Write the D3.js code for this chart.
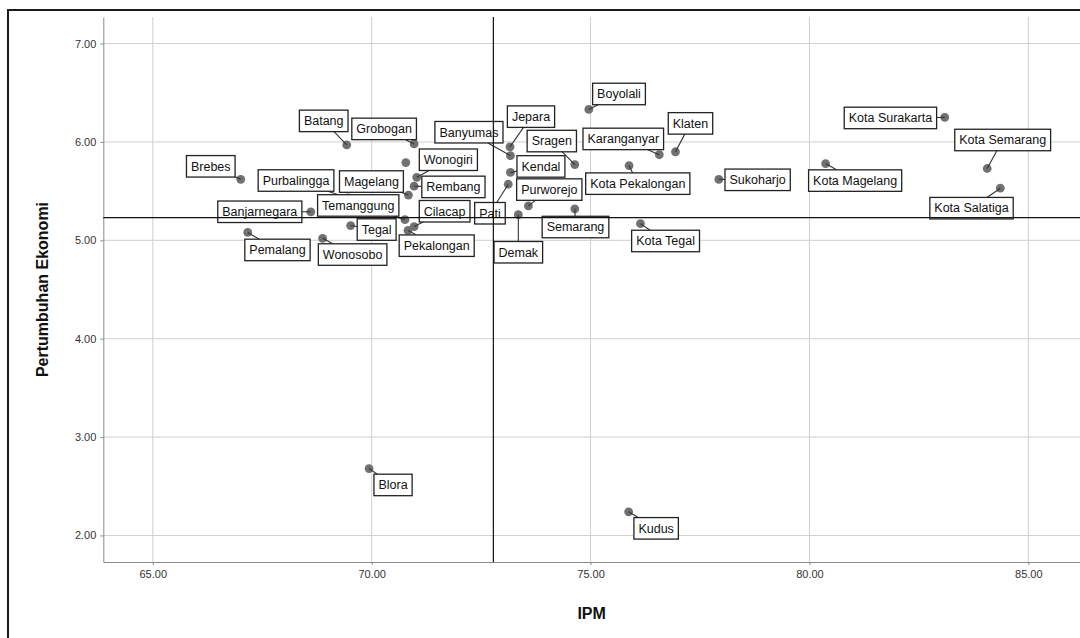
<!DOCTYPE html>
<html>
<head>
<meta charset="utf-8">
<script src="https://cdn.jsdelivr.net/npm/d3@7"></script>
<style>
  html, body { margin: 0; padding: 0; background: #fff; }
  svg { display: block; }
  text { font-family: Arial, "Liberation Sans", sans-serif; }
</style>
</head>
<body>
<svg id="chart" width="1080" height="638"></svg>
<script>
// ---- data ----
const regions = ["Batang","Grobogan","Brebes","Kebumen","Wonogiri","Rembang","Magelang","Purbalingga",
  "Banjarnegara","Tegal","Wonosobo","Pemalang","Temanggung","Cilacap","Pekalongan",
  "Jepara","Banyumas","Kendal","Pati","Purworejo","Demak","Sragen","Semarang","Boyolali",
  "Karanganyar","Klaten","Kota Pekalongan","Kota Tegal","Sukoharjo","Kota Surakarta",
  "Kota Semarang","Kota Magelang","Kota Salatiga","Blora","Kudus"];
const ipm = [69.43,70.97,67.01,70.78,71.03,70.97,70.84,69.46,
  68.61,69.52,68.88,67.17,70.76,70.97,70.83,
  73.16,73.17,73.17,73.12,73.58,73.35,74.64,74.64,74.96,
  76.57,76.94,75.88,76.14,77.93,83.09,
  84.06,80.37,84.36,69.94,75.87];
const growth = [5.97,5.98,5.62,5.79,5.64,5.55,5.46,5.43,
  5.29,5.15,5.02,5.08,5.21,5.14,5.10,
  5.95,5.86,5.69,5.57,5.35,5.26,5.77,5.32,6.33,
  5.87,5.90,5.76,5.17,5.62,6.25,
  5.73,5.78,5.53,2.68,2.24];
const showLabel = [1,1,1,0,1,1,1,1, 1,1,1,1,1,1,1, 1,1,1,1,1,1,1,1,1, 1,1,1,1,1,1, 1,1,1,1,1];
const xTicks = [65, 70, 75, 80, 85];
const yTicks = [2, 3, 4, 5, 6, 7];
const refIPM = 72.78;
const refGrowth = 5.231;
const xTitle = "IPM";
const yTitle = "Pertumbuhan Ekonomi";

// ---- layout (label centre offsets from the point, px) ----
const labelOffsets = {
  "Batang":[-23,-24], "Grobogan":[-30,-15], "Brebes":[-30,-13], "Wonogiri":[31.6,-17.6],
  "Rembang":[39.3,0.7], "Magelang":[-37,-13.5], "Purbalingga":[-52,-17.5],
  "Banjarnegara":[-51,0], "Tegal":[26,4], "Wonosobo":[30,16.2], "Pemalang":[29.7,17.5],
  "Temanggung":[-46.7,-14.2], "Cilacap":[30.5,-15.3], "Pekalongan":[28.7,15.2],
  "Jepara":[21,-30.2], "Banyumas":[-41.5,-23.5], "Kendal":[30.5,-6], "Pati":[-18.3,29],
  "Purworejo":[20.9,-16.3], "Demak":[0,37.5], "Sragen":[-23,-23.5], "Semarang":[0.7,18.2],
  "Boyolali":[30.2,-15.5], "Karanganyar":[-36,-15.8], "Klaten":[15,-28.4],
  "Kota Pekalongan":[8.7,18.1], "Kota Tegal":[25.1,17.4], "Sukoharjo":[38.8,0.5],
  "Kota Surakarta":[-54.3,0.6], "Kota Semarang":[15.5,-28.5], "Kota Magelang":[29.5,17],
  "Kota Salatiga":[-28.8,20], "Blora":[24,16.4], "Kudus":[27.5,16.5]
};

const svg = d3.select("#chart");
const pL = 103.3, pR = 1080, pT = 17, pB = 562;
const x = d3.scaleLinear().domain([63.87, 86.18]).range([pL, pR]);
const y = d3.scaleLinear().domain([1.73, 7.27]).range([pB, pT]);

// outer frame
svg.append("rect").attr("x", 8).attr("y", 10).attr("width", 1100).attr("height", 700)
  .attr("fill", "none").attr("stroke", "#1a1a1a").attr("stroke-width", 2);

// gridlines
svg.append("g").selectAll("line").data(xTicks).join("line")
  .attr("x1", d => x(d)).attr("x2", d => x(d)).attr("y1", pT).attr("y2", pB)
  .attr("stroke", "#cfcfcf").attr("stroke-width", 1);
svg.append("g").selectAll("line").data(yTicks).join("line")
  .attr("x1", pL).attr("x2", pR).attr("y1", d => y(d)).attr("y2", d => y(d))
  .attr("stroke", "#cfcfcf").attr("stroke-width", 1);

// axes
const xAxis = svg.append("g").attr("transform", `translate(0,${pB})`)
  .call(d3.axisBottom(x).tickValues(xTicks).tickFormat(d3.format(".2f")).tickSize(3).tickSizeOuter(0).tickPadding(5));
const yAxis = svg.append("g").attr("transform", `translate(${pL},0)`)
  .call(d3.axisLeft(y).tickValues(yTicks).tickFormat(d3.format(".2f")).tickSize(3).tickSizeOuter(0).tickPadding(4));
[xAxis, yAxis].forEach(g => {
  g.select(".domain").attr("stroke", "#8a8a8a");
  g.selectAll(".tick line").attr("stroke", "#8a8a8a");
  g.selectAll(".tick text").attr("fill", "#333").style("font-size", "11px")
    .style("font-family", "Arial, 'Liberation Sans', sans-serif");
});

// points
const pts = regions.map((r, i) => ({name: r, cx: x(ipm[i]), cy: y(growth[i]), lab: showLabel[i]}));
svg.append("g").selectAll("circle").data(pts).join("circle")
  .attr("cx", d => d.cx).attr("cy", d => d.cy).attr("r", 4.4).attr("fill", "#717171");

// labels
const lg = svg.append("g");
const labelled = pts.filter(d => d.lab && labelOffsets[d.name]);
labelled.forEach(d => {
  const off = labelOffsets[d.name];
  const lx = d.cx + off[0], ly = d.cy + off[1];
  const t = lg.append("text").attr("x", lx).attr("y", ly + 4.3).attr("text-anchor", "middle")
    .style("font-size", "12.5px").attr("fill", "#111").text(d.name);
  const w = t.node().getComputedTextLength() + 9;
  const h = 21.5;
  const bx = lx - w / 2, by = ly - h / 2;
  // connector: from point towards the box centre, stopping at the box border
  const dx = lx - d.cx, dy = ly - d.cy;
  const inside = d.cx >= bx && d.cx <= bx + w && d.cy >= by && d.cy <= by + h;
  if (!inside) {
    let tmin = 1;
    if (dx !== 0) {
      const tx = dx > 0 ? (bx - d.cx) / dx : (bx + w - d.cx) / dx;
      if (tx > 0 && tx < 1) {
        const yy = d.cy + tx * dy;
        if (yy >= by - 0.01 && yy <= by + h + 0.01) tmin = Math.min(tmin, tx);
      }
    }
    if (dy !== 0) {
      const ty = dy > 0 ? (by - d.cy) / dy : (by + h - d.cy) / dy;
      if (ty > 0 && ty < 1) {
        const xx = d.cx + ty * dx;
        if (xx >= bx - 0.01 && xx <= bx + w + 0.01) tmin = Math.min(tmin, ty);
      }
    }
    const ex = d.cx + tmin * dx, ey = d.cy + tmin * dy;
    if (Math.hypot(ex - d.cx, ey - d.cy) > 4.4) {
      lg.insert("line", () => t.node()).attr("x1", d.cx).attr("y1", d.cy).attr("x2", ex).attr("y2", ey)
        .attr("stroke", "#333").attr("stroke-width", 1.1);
    }
  }
  lg.insert("rect", () => t.node()).attr("x", bx).attr("y", by).attr("width", w).attr("height", h)
    .attr("fill", "#fff").attr("stroke", "#222").attr("stroke-width", 1.3);
});

// reference lines
svg.append("line").attr("x1", x(refIPM)).attr("x2", x(refIPM)).attr("y1", pT).attr("y2", pB)
  .attr("stroke", "#111").attr("stroke-width", 1.2);
svg.append("line").attr("x1", pL).attr("x2", pR).attr("y1", y(refGrowth)).attr("y2", y(refGrowth))
  .attr("stroke", "#111").attr("stroke-width", 1.2);

// titles
svg.append("text").attr("x", (pL + pR) / 2).attr("y", 619).attr("text-anchor", "middle")
  .style("font-size", "16px").style("font-weight", "bold").attr("fill", "#111").text(xTitle);
svg.append("text").attr("transform", `translate(48,${(pT + pB) / 2}) rotate(-90)`)
  .attr("text-anchor", "middle").style("font-size", "16px").style("font-weight", "bold")
  .attr("fill", "#111").text(yTitle);
</script>
</body>
</html>
